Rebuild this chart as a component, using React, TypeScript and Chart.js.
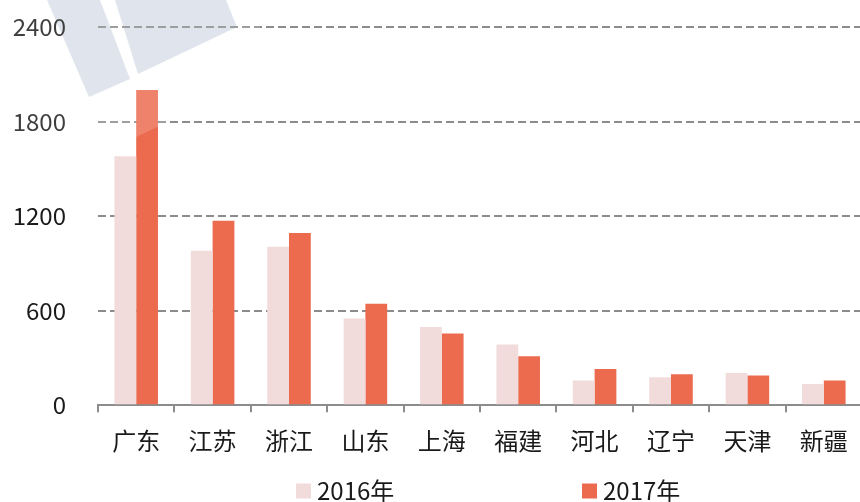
import React, { useEffect, useRef } from "react";
import { Chart, registerables } from "chart.js";

Chart.register(...registerables);

const categories = ["广东", "江苏", "浙江", "山东", "上海", "福建", "河北", "辽宁", "天津", "新疆"];
const values2016 = [1580, 980, 1005, 550, 497, 385, 156, 177, 204, 135];
const values2017 = [2000, 1170, 1093, 644, 455, 311, 229, 196, 188, 156];
const seriesLabels = ["2016年", "2017年"];
const yTicks = [0, 600, 1200, 1800, 2400];

const FONT = '"Noto Sans CJK SC", "Noto Sans", sans-serif';
const COLOR_2016 = "#f2dcdb";
const COLOR_2017 = "#ec6a4e";
const GRID = "#8c8c8c";
const TEXT = "#1a1a1a";

const watermarkPlugin = {
  id: "watermark",
  beforeDraw(chart: any) {
    const ctx = chart.ctx;
    ctx.save();
    ctx.fillStyle = "#dae1ea";
    ctx.beginPath();
    ctx.moveTo(47, 0);
    ctx.lineTo(100, 0);
    ctx.lineTo(130, 79);
    ctx.lineTo(89, 97);
    ctx.closePath();
    ctx.fill();
    ctx.beginPath();
    ctx.moveTo(115, 0);
    ctx.lineTo(226, 0);
    ctx.lineTo(237, 27);
    ctx.lineTo(138, 74);
    ctx.closePath();
    ctx.fill();
    ctx.restore();
  },
  afterDatasetsDraw(chart: any) {
    const ctx = chart.ctx;
    ctx.save();
    ctx.fillStyle = "rgba(255,255,255,0.16)";
    ctx.beginPath();
    ctx.moveTo(0, 0);
    ctx.lineTo(260, 0);
    ctx.lineTo(260, 78);
    ctx.lineTo(0, 202);
    ctx.closePath();
    ctx.fill();
    ctx.restore();
  },
};

const legendPlugin = {
  id: "customLegend",
  afterDraw(chart: any) {
    const ctx = chart.ctx;
    const area = chart.chartArea;
    const center = (area.left + area.right) / 2;
    const offsets = [-184, 102];
    const y = 491;
    ctx.save();
    ctx.font = `24px ${FONT}`;
    ctx.textBaseline = "middle";
    ctx.textAlign = "left";
    chart.data.datasets.forEach((ds: any, i: number) => {
      const x = center + offsets[i];
      ctx.fillStyle = ds.backgroundColor;
      ctx.fillRect(x, y - 7.5, 15, 15);
      ctx.fillStyle = TEXT;
      ctx.fillText(ds.label, x + 21, y);
    });
    ctx.restore();
  },
};

export default function App() {
  const ref = useRef<HTMLCanvasElement>(null);

  useEffect(() => {
    document.body.style.overflow = "hidden";
    const canvas = ref.current;
    if (!canvas) return;
    const chart = new Chart(canvas, {
      type: "bar",
      data: {
        labels: categories,
        datasets: [
          { label: seriesLabels[0], data: values2016, backgroundColor: COLOR_2016 },
          { label: seriesLabels[1], data: values2017, backgroundColor: COLOR_2017 },
        ],
      },
      options: {
        responsive: false,
        animation: false,
        layout: { padding: { top: 27, left: 0, right: 2, bottom: 33 } },
        datasets: { bar: { categoryPercentage: 0.57, barPercentage: 1 } },
        plugins: {
          legend: { display: false },
          tooltip: { enabled: false },
        },
        scales: {
          x: {
            grid: {
              drawOnChartArea: false,
              drawTicks: true,
              tickLength: 7,
              color: GRID,
              lineWidth: 2,
            },
            border: { display: true, color: GRID, width: 2 },
            ticks: {
              color: TEXT,
              font: { family: FONT, size: 24 },
              padding: 14,
            },
          },
          y: {
            min: 0,
            max: 2400,
            afterFit(scale: any) {
              scale.width = 98;
              scale.paddingTop = 0;
              scale.paddingBottom = 0;
            },
            afterBuildTicks(scale: any) {
              scale.ticks = yTicks.map((v) => ({ value: v }));
            },
            grid: {
              drawTicks: false,
              color: (c: any) => (c.tick && c.tick.value === 0 ? "rgba(0,0,0,0)" : GRID),
              lineWidth: 2,
            },
            border: { display: false, dash: [8, 4] },
            ticks: {
              color: TEXT,
              font: { family: FONT, size: 24 },
              padding: 32,
              callback: (v: any) => String(v),
            },
          },
        },
      },
      plugins: [watermarkPlugin, legendPlugin],
    } as any);
    return () => chart.destroy();
  }, []);

  return (
    <div style={{ position: "fixed", left: 0, top: 0, width: 864, height: 502, background: "#fff" }}>
      <canvas ref={ref} width={864} height={502} style={{ display: "block" }} />
    </div>
  );
}
